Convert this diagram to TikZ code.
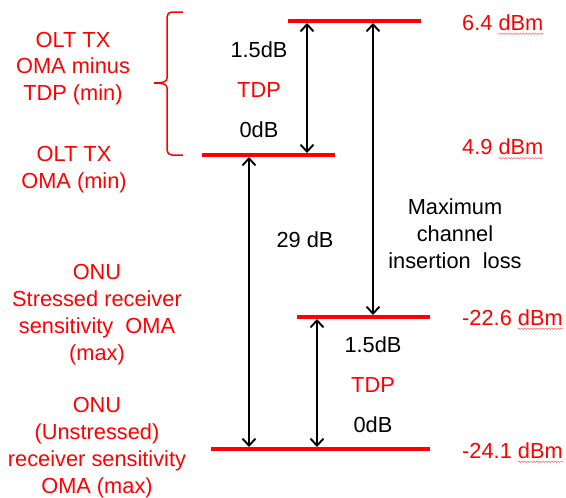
\documentclass[tikz,border=0pt]{standalone}
\usepackage{fontspec}
\setmainfont{Liberation Sans}
\usetikzlibrary{arrows.meta,decorations.pathmorphing}
\definecolor{pred}{RGB}{255,0,0}
\begin{document}
\begin{tikzpicture}[x=1pt,y=-1pt,
  level/.style={pred,line width=3.5pt},
  dim/.style={{Straight Barb[length=7pt,width=13pt]}-{Straight Barb[length=7pt,width=13pt]},line width=1.9pt,black},
  lbl/.style={pred,align=center,inner sep=0pt,font=\fontsize{21.8}{27}\selectfont},
  blk/.style={black,inner sep=0pt,font=\fontsize{21.8}{27}\selectfont},
  dbm/.style={pred,inner sep=0pt,anchor=west,font=\fontsize{21.8}{27}\selectfont},
  squig/.style={pred!55,line width=0.6pt,decorate,decoration={snake,amplitude=0.7pt,segment length=3pt}},
  bracestyle/.style={pred,line width=1.5pt}]
\useasboundingbox (0,0) rectangle (566,498);
% level lines
\draw[level] (288,21) -- (421,21);
\draw[level] (202,155) -- (335,155);
\draw[level] (297,317) -- (430,317);
\draw[level] (211,449) -- (430,449);
% arrow end points
\coordinate (t1) at (307,23);
\coordinate (b1) at (307,153);
\coordinate (t2) at (373,23);
\coordinate (b2) at (373,315);
\coordinate (t3) at (249,157);
\coordinate (b3) at (249,447);
\coordinate (t4) at (317,319);
\coordinate (b4) at (317,447);
\draw[dim] (t1) -- (b1);
\draw[dim] (t2) -- (b2);
\draw[dim] (t3) -- (b3);
\draw[dim] (t4) -- (b4);
% brace
\draw[bracestyle] (183,12) -- (172,12) .. controls (169,12) and (167,14) .. (167,17) -- (167,78) .. controls (167,81) and (165,83) .. (154,83);
\draw[bracestyle] (154,83) .. controls (165,83) and (167,85) .. (167,88) -- (167,150) .. controls (167,153) and (169,155) .. (172,155) -- (183,155);
% left labels
\node[lbl,font=\fontsize{21.8}{26.3}\selectfont] (oltmin) at (73,68.5) {OLT TX\\OMA minus\\TDP (min)};
\node[lbl] (olt) at (74,170) {OLT TX\\OMA (min)};
\node[lbl] (onus) at (97,314.5) {ONU\\Stressed receiver\\sensitivity\ \ OMA\\(max)};
\node[lbl] (onuu) at (97,447.5) {ONU\\(Unstressed)\\receiver sensitivity\\OMA (max)};
% inner labels
\node[blk] (u15) at (259,50) {1.5dB};
\node[lbl] (utdp) at (259,89.5) {TDP};
\node[blk] (u0) at (259,130) {0dB};
\node[blk] (l15) at (373,344.5) {1.5dB};
\node[lbl] (ltdp) at (373,384.5) {TDP};
\node[blk] (l0) at (373,424.5) {0dB};
\node[blk] (d29) at (305,240) {29 dB};
\node[blk,align=center] (mcil) at (455,233.5) {Maximum\\channel\\insertion\ \ loss};
% dBm labels
\node[dbm] (v1) at (462,22.5) {6.4 dBm};
\node[dbm] (v2) at (462,147) {4.9 dBm};
\node[dbm] (v3) at (462,317.5) {-22.6 dBm};
\node[dbm] (v4) at (462,450.5) {-24.1 dBm};
\foreach \n in {v1,v2,v3,v4}{
  \draw[squig] ([xshift=-45pt,yshift=-3.5pt]\n.base east) -- ([yshift=-3.5pt]\n.base east);
}
\end{tikzpicture}
\end{document}
